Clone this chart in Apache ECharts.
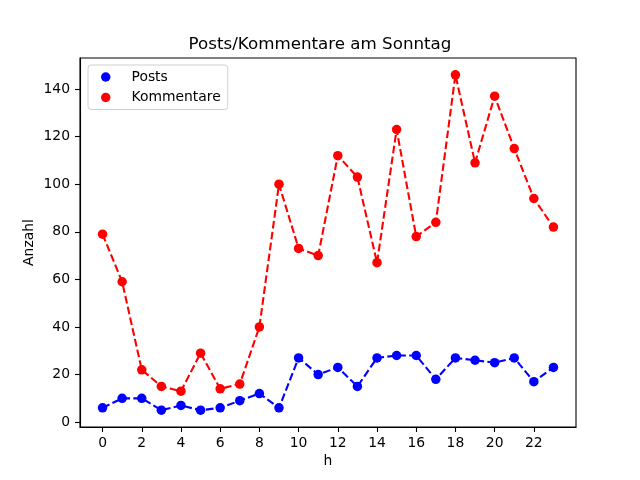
<!DOCTYPE html>
<html>
<head>
<meta charset="utf-8">
<script src="https://cdn.jsdelivr.net/npm/echarts@6/dist/echarts.min.js"></script>
<style>
html,body{margin:0;padding:0;background:#fff;}
#chart{width:640px;height:480px;}
</style>
</head>
<body>
<div id="chart"></div>
<script>
var hours = [0,1,2,3,4,5,6,7,8,9,10,11,12,13,14,15,16,17,18,19,20,21,22,23];
var posts = [6,10,10,5,7,5,6,9,12,6,27,20,23,15,27,28,28,18,27,26,25,27,17,23];
var kommentare = [79,59,22,15,13,29,14,16,40,100,73,70,112,103,67,123,78,84,146,109,137,115,94,82];
var xTicks = [0,2,4,6,8,10,12,14,16,18,20,22];
var yTicks = [0,20,40,60,80,100,120,140];

function pairs(xs, ys){ return xs.map(function(x,i){ return [x, ys[i]]; }); }

var FONT = 'DejaVu Sans';
var chart = echarts.init(document.getElementById('chart'), null, {renderer:'canvas'});
var dash = [7.7, 3.3];
chart.setOption({
  animation: false,
  backgroundColor: '#ffffff',
  textStyle: {fontFamily: FONT},
  title: {
    text: 'Posts/Kommentare am Sonntag',
    left: 'center',
    top: 31,
    textStyle: {fontFamily: FONT, fontSize: 16.7, fontWeight: 'normal', color: '#000'}
  },
  legend: {
    orient: 'vertical',
    left: 88,
    top: 65,
    padding: [5, 7, 5, 13],
    itemGap: 6.5,
    itemWidth: 9.5,
    itemHeight: 9.5,
    icon: 'circle',
    backgroundColor: '#ffffff',
    borderColor: '#d0d0d0',
    borderWidth: 1,
    borderRadius: 3,
    textStyle: {fontFamily: FONT, fontSize: 13.9, color: '#000', padding: [0,0,0,16]},
    data: ['Posts', 'Kommentare']
  },
  grid: {
    left: 80, right: 64, top: 58, bottom: 53,
    show: true, borderColor: '#000', borderWidth: 1.1, backgroundColor: 'transparent'
  },
  xAxis: {
    type: 'value',
    min: -1.15, max: 24.15,
    name: 'h',
    nameLocation: 'middle',
    nameGap: 27,
    nameMoveOverlap: false,
    nameTextStyle: {fontFamily: FONT, fontSize: 13.9, color: '#000'},
    axisLine: {show: true, onZero: false, lineStyle: {color: '#000', width: 1.1}},
    axisTick: {show: true, inside: false, length: 5, customValues: xTicks, lineStyle: {color: '#000', width: 1.1}},
    axisLabel: {customValues: xTicks, margin: 9, fontFamily: FONT, fontSize: 13.9, color: '#000'},
    splitLine: {show: false}
  },
  yAxis: {
    type: 'value',
    min: -2.05, max: 153.05,
    name: 'Anzahl',
    nameLocation: 'middle',
    nameGap: 44,
    nameMoveOverlap: false,
    nameTextStyle: {fontFamily: FONT, fontSize: 13.9, color: '#000'},
    axisLine: {show: true, onZero: false, lineStyle: {color: '#000', width: 1.1}},
    axisTick: {show: true, inside: false, length: 5, customValues: yTicks, lineStyle: {color: '#000', width: 1.1}},
    axisLabel: {customValues: yTicks, margin: 10, fontFamily: FONT, fontSize: 13.9, color: '#000'},
    splitLine: {show: false}
  },
  series: [
    {
      name: 'Posts', type: 'line', data: pairs(hours, posts),
      symbol: 'circle', symbolSize: 9.5, showAllSymbol: true,
      itemStyle: {color: '#0000ff'},
      lineStyle: {color: '#0000ff', width: 2.1, type: dash}
    },
    {
      name: 'Kommentare', type: 'line', data: pairs(hours, kommentare),
      symbol: 'circle', symbolSize: 9.5, showAllSymbol: true,
      itemStyle: {color: '#ff0000'},
      lineStyle: {color: '#ff0000', width: 2.1, type: dash}
    }
  ]
});
</script>
</body>
</html>
